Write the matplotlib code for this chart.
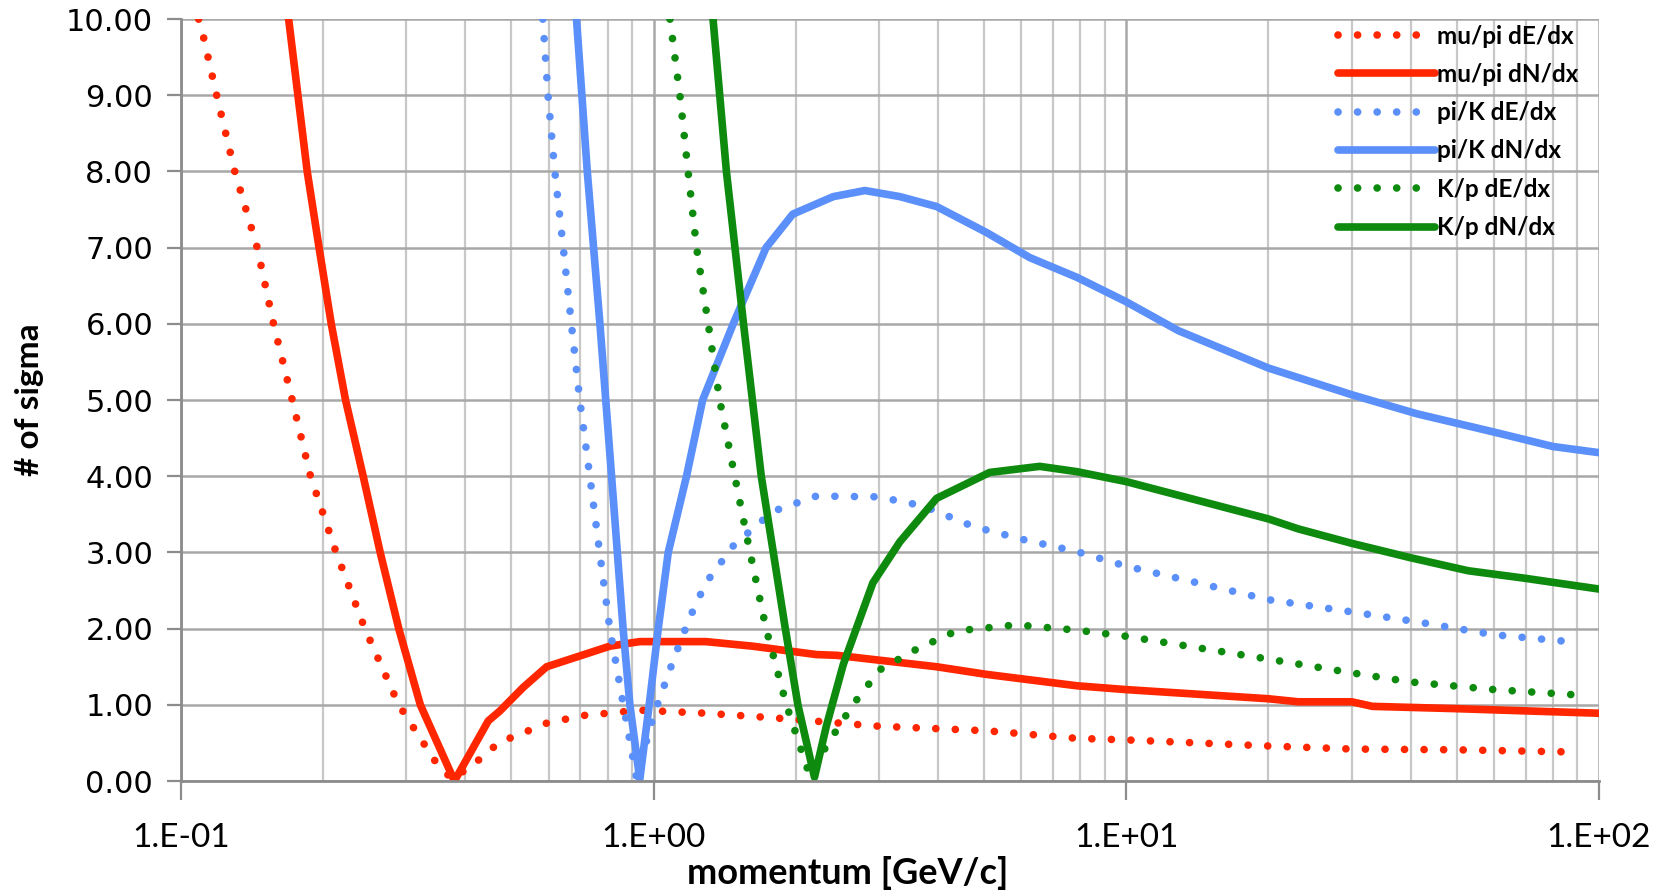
import matplotlib.pyplot as plt
import numpy as np
from matplotlib.ticker import FixedLocator, LogLocator, NullFormatter

# momentum [GeV/c] and separation in # of sigma
mupi_de_p = [0.109, 0.111, 0.119, 0.130, 0.145, 0.157, 0.172, 0.188, 0.213, 0.245,
             0.289, 0.346, 0.375, 0.436, 0.473, 0.506, 0.594, 0.71, 0.935, 1.29,
             1.79, 2.99, 5.06, 7.87, 10, 20, 30, 50, 90]
mupi_de_s = [10.0, 9.83, 9.0, 8.0, 7.0, 6.0, 5.0, 4.0, 3.0, 2.0,
             1.0, 0.25, 0.02, 0.32, 0.52, 0.58, 0.76, 0.86, 0.93, 0.89,
             0.83, 0.72, 0.66, 0.56, 0.54, 0.46, 0.42, 0.41, 0.38]

mupi_dn_p = [0.169, 0.185, 0.196, 0.208, 0.223, 0.243, 0.264, 0.289, 0.321, 0.379,
             0.447, 0.473, 0.53, 0.594, 0.808, 0.935, 1.29, 1.62, 2.21, 2.44,
             3.97, 5.06, 7.87, 10, 20, 23.1, 30, 33.2, 50, 100]
mupi_dn_s = [10.0, 8.0, 7.0, 6.0, 5.0, 4.0, 3.0, 2.0, 1.0, 0.0,
             0.79, 0.92, 1.23, 1.50, 1.77, 1.83, 1.83, 1.77, 1.66, 1.65,
             1.50, 1.40, 1.25, 1.20, 1.08, 1.04, 1.04, 0.98, 0.95, 0.89]

pik_de_p = [0.583, 0.598, 0.618, 0.644, 0.67, 0.698, 0.733, 0.769, 0.808, 0.863,
            0.92, 1.0, 1.10, 1.19, 1.29, 1.48, 1.79, 2.21, 2.99, 3.72,
            4.75, 6.05, 7.87, 10, 12.9, 20, 30, 41.2, 60, 90]
pik_de_s = [10.0, 9.0, 8.0, 7.0, 6.0, 5.0, 4.0, 3.0, 2.0, 1.0,
            0.05, 0.86, 1.58, 2.13, 2.6, 3.1, 3.54, 3.74, 3.73, 3.61,
            3.34, 3.17, 3.01, 2.82, 2.66, 2.38, 2.22, 2.09, 1.92, 1.82]

pik_dn_p = [0.687, 0.724, 0.77, 0.815, 0.862, 0.891, 0.935, 0.979, 1.023, 1.074,
            1.174, 1.27, 1.474, 1.73, 1.97, 2.40, 2.80, 3.32, 3.97, 5.06,
            6.25, 7.87, 10, 12.9, 20, 30, 41.2, 60, 80, 100]
pik_dn_s = [10.0, 8.0, 6.0, 4.0, 2.0, 1.0, 0.02, 1.0, 2.0, 3.0,
            4.0, 5.0, 6.0, 7.0, 7.44, 7.67, 7.75, 7.67, 7.54, 7.2,
            6.87, 6.61, 6.29, 5.91, 5.42, 5.07, 4.82, 4.58, 4.39, 4.31]

kp_de_p = [1.083, 1.137, 1.183, 1.233, 1.305, 1.38, 1.485, 1.60, 1.73, 1.91,
           2.14, 2.32, 2.64, 3.01, 3.60, 4.37, 5.86, 7.87, 10, 20,
           30, 40, 60, 90]
kp_de_s = [10.0, 9.0, 8.0, 7.0, 6.0, 5.0, 4.0, 3.0, 2.0, 1.0,
           0.07, 0.46, 1.0, 1.46, 1.73, 1.97, 2.05, 1.98, 1.90, 1.60,
           1.42, 1.30, 1.20, 1.13]

kp_dn_p = [1.336, 1.426, 1.55, 1.69, 1.90, 2.02, 2.19, 2.32, 2.52, 2.91,
           3.32, 3.97, 5.14, 6.56, 7.87, 10, 20, 23.1, 30, 40,
           52.9, 70, 100]
kp_dn_s = [10.0, 8.0, 6.0, 4.0, 2.0, 1.0, 0.05, 0.72, 1.53, 2.6,
           3.14, 3.71, 4.05, 4.13, 4.06, 3.93, 3.44, 3.31, 3.12, 2.93,
           2.76, 2.66, 2.52]

RED = '#ff2600'
BLUE = '#5b8ff9'
GREEN = '#0e8a0e'

series = [
    (mupi_de_p, mupi_de_s, RED, 'dot', 'mu/pi dE/dx'),
    (mupi_dn_p, mupi_dn_s, RED, 'solid', 'mu/pi dN/dx'),
    (pik_de_p, pik_de_s, BLUE, 'dot', 'pi/K dE/dx'),
    (pik_dn_p, pik_dn_s, BLUE, 'solid', 'pi/K dN/dx'),
    (kp_de_p, kp_de_s, GREEN, 'dot', 'K/p dE/dx'),
    (kp_dn_p, kp_dn_s, GREEN, 'solid', 'K/p dN/dx'),
]

fig = plt.figure(figsize=(16.66, 8.96), dpi=100)
ax = fig.add_axes([0.1086, 0.1283, 0.8511, 0.8504])

for p, s, color, style, label in series:
    if style == 'dot':
        ax.plot(p, s, color=color, lw=5.5, linestyle=(0, (0.01, 2.55)),
                dash_capstyle='round', label=label)
    else:
        ax.plot(p, s, color=color, lw=5.5, solid_capstyle='round',
                solid_joinstyle='round', label=label)

ax.set_xscale('log')
ax.set_xlim(0.1, 100)
ax.set_ylim(0, 10)
ax.yaxis.set_major_locator(FixedLocator(np.arange(0, 11)))
ax.set_yticklabels(['%.2f' % v for v in np.arange(0, 11)])
ax.xaxis.set_major_locator(FixedLocator([0.1, 1, 10, 100]))
ax.set_xticklabels(['1.E-01', '1.E+00', '1.E+01', '1.E+02'])
ax.xaxis.set_minor_locator(LogLocator(base=10, subs=np.arange(2, 10)))
ax.xaxis.set_minor_formatter(NullFormatter())

ax.grid(True, which='major', color='#a8a8a8', lw=1.8)
ax.grid(True, which='minor', color='#c8c8c8', lw=1.6)
ax.set_axisbelow(True)
for side in ['top', 'right']:
    ax.spines[side].set_visible(False)
for side in ['left', 'bottom']:
    ax.spines[side].set_color('#8c8c8c')
    ax.spines[side].set_linewidth(2)

ax.tick_params(axis='y', which='major', length=10, width=1.6, color='#8c8c8c',
               direction='out', pad=10, labelsize=22)
ax.tick_params(axis='x', which='major', length=14, width=1.6, color='#8c8c8c',
               direction='out', pad=16, labelsize=24)
ax.tick_params(axis='x', which='minor', length=0)
for lbl in ax.get_yticklabels():
    lbl.set_family('DejaVu Sans')
for lbl in ax.get_xticklabels():
    lbl.set_family('Lato')

ax.set_ylabel('# of sigma', fontsize=24, fontweight='bold', family='Lato', labelpad=16)
ax.set_xlabel('momentum [GeV/c]', fontsize=26, fontweight='bold', family='Lato')
ax.xaxis.set_label_coords(0.47, -0.098)

leg = ax.legend(loc='upper right', bbox_to_anchor=(0.996, 1.012), frameon=False,
                prop={'family': 'Lato', 'weight': 'bold', 'size': 17.5},
                handlelength=4.0, handletextpad=0.1, labelspacing=0.63, borderaxespad=0.2)

fig.savefig('out.png', dpi=100)
